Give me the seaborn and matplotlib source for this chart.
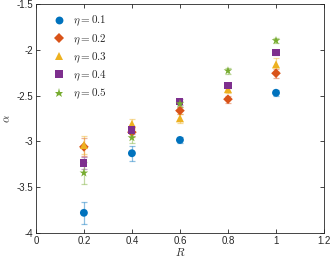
#!/usr/bin/env python3
"""alpha versus R for several eta values, with error bars"""
import numpy as np
import pandas as pd
import matplotlib
matplotlib.use("Agg")
import matplotlib.pyplot as plt
import seaborn as sns

R = [0.2, 0.4, 0.6, 0.8, 1.0]
eta_labels = [r'$\eta = 0.1$', r'$\eta = 0.2$', r'$\eta = 0.3$',
              r'$\eta = 0.4$', r'$\eta = 0.5$']

alpha_01 = [-3.78, -3.13, -2.985, np.nan, -2.47]
alpha_02 = [-3.06, -2.90, -2.665, -2.54, -2.257]
alpha_03 = [-3.04, -2.81, -2.748, -2.43, -2.16]
alpha_04 = [-3.236, -2.876, -2.57, -2.39, -2.03]
alpha_05 = [-3.345, -2.96, -2.59, -2.23, -1.90]

err_01 = [0.12, 0.08, 0.03, np.nan, 0.03]
err_02 = [0.10, 0.05, 0.04, 0.04, 0.05]
err_03 = [0.10, 0.05, 0.05, 0.04, 0.07]
err_04 = [0.07, 0.04, 0.03, 0.03, 0.03]
err_05 = [0.12, 0.06, 0.03, 0.03, 0.03]

colors = ['#0072BD', '#D95319', '#EDB120', '#7E2F8E', '#77AC30']
markers = ['o', 'D', '^', 's', '*']
sizes = [32, 24, 34, 26, 42]

alphas = [alpha_01, alpha_02, alpha_03, alpha_04, alpha_05]
errs = [err_01, err_02, err_03, err_04, err_05]

# long table for seaborn
rows = []
for lab, a, e in zip(eta_labels, alphas, errs):
    for r, v, s in zip(R, a, e):
        rows.append({'R': r, 'alpha': v, 'err': s, 'eta': lab})
df = pd.DataFrame(rows).dropna()

sns.set_style('ticks')
plt.rcParams['font.family'] = ['Liberation Sans', 'DejaVu Sans']
plt.rcParams['mathtext.fontset'] = 'cm'
plt.rcParams['axes.unicode_minus'] = False

fig = plt.figure(figsize=(3.32, 2.6), dpi=100)
ax = fig.add_axes([0.108, 0.104, 0.868, 0.881])

# error bars first, lighter
for lab, c in zip(eta_labels, colors):
    d = df[df['eta'] == lab]
    ax.errorbar(d['R'], d['alpha'], yerr=d['err'], fmt='none', ecolor=c,
                alpha=0.45, elinewidth=0.9, capsize=2, capthick=0.9)

sns.scatterplot(data=df, x='R', y='alpha', hue='eta', style='eta',
                palette=dict(zip(eta_labels, colors)),
                markers=dict(zip(eta_labels, markers)),
                size='eta', sizes=dict(zip(eta_labels, sizes)),
                hue_order=eta_labels, style_order=eta_labels,
                size_order=eta_labels,
                edgecolor='none', linewidth=0, ax=ax, zorder=3)

handles, labels = ax.get_legend_handles_labels()
ax.legend(handles[-5:], labels[-5:], loc='upper left', frameon=False,
          fontsize=8, handletextpad=0.3, labelspacing=0.35,
          bbox_to_anchor=(0.025, 0.975), borderaxespad=0)

ax.set_xlim(0, 1.2)
ax.set_ylim(-4, -1.5)
ax.set_xticks([0, 0.2, 0.4, 0.6, 0.8, 1, 1.2])
ax.set_xticklabels(['0', '0.2', '0.4', '0.6', '0.8', '1', '1.2'])
ax.set_yticks([-4, -3.5, -3, -2.5, -2, -1.5])
ax.set_yticklabels(['-4', '-3.5', '-3', '-2.5', '-2', '-1.5'])
ax.tick_params(direction='in', length=3, width=0.6, labelsize=7,
               top=True, right=True, color='#262626', labelcolor='#262626',
               pad=2)
for sp in ax.spines.values():
    sp.set_linewidth(0.6)
    sp.set_color('#262626')

ax.set_xlabel(r'$R$', fontsize=8, labelpad=0)
ax.set_ylabel(r'$\alpha$', fontsize=8, labelpad=3)

fig.savefig('out.png', dpi=100)
